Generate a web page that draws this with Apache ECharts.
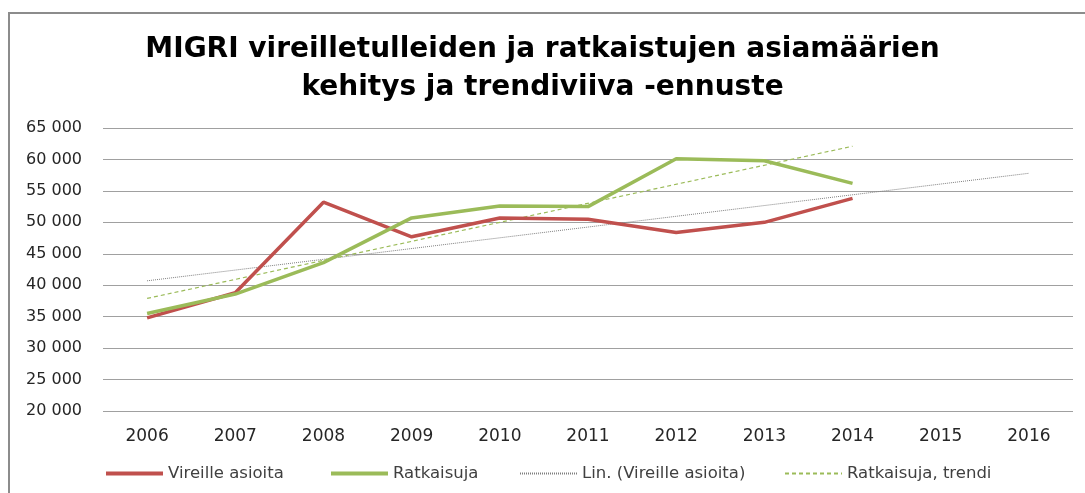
<!DOCTYPE html>
<html lang="fi">
<head>
  <meta charset="UTF-8">
  <title>MIGRI asiamäärät</title>
  <style>
    html, body {
      margin: 0;
      padding: 0;
      background: #fff;
      overflow: hidden;
    }
    .frame {
      position: absolute;
      left: 8px;
      top: 12px;
      width: 1200px;
      height: 600px;
      border-top: 2px solid #8c8c8c;
      border-left: 2px solid #8c8c8c;
    }
    #chart {
      position: absolute;
      left: 0;
      top: 0;
      width: 1085px;
      height: 493px;
    }
  </style>
  <script src="https://cdn.jsdelivr.net/npm/echarts@6/dist/echarts.min.js"></script>
</head>
<body>
  <div class="frame"></div>
  <div id="chart"></div>
  <script>
    var years = ['2006', '2007', '2008', '2009', '2010', '2011', '2012', '2013', '2014', '2015', '2016'];
    var vireille = [34800, 38800, 53200, 47700, 50700, 50500, 48400, 50000, 53800, null, null];
    var ratkaisuja = [35500, 38600, 43600, 50700, 52600, 52500, 60100, 59800, 56200, null, null];
    // trendiviivojen päätepisteet luettu kuvasta
    var vireilleTrend = [[0, 40700], [10, 57800]];
    var ratkaisujaTrend = [[0, 37900], [8, 62100]];
    var yTicks = { min: 20000, max: 65000, step: 5000 };

    var font = '"DejaVu Sans", sans-serif';
    var chart = echarts.init(document.getElementById('chart'));

    // viivamainen selite; yhtenäisille sarjoille paksu suorakulmio
    function legendAt(left, name, solid) {
      var lg = {
        left: left,
        top: 460,
        itemWidth: 57,
        itemHeight: 14,
        itemGap: 0,
        data: [name],
        textStyle: { color: '#404040', fontSize: 16.5, fontFamily: font }
      };
      if (solid) {
        lg.icon = 'rect';
        lg.itemHeight = 4;
      } else {
        lg.itemStyle = { opacity: 0 };
      }
      return lg;
    }

    chart.setOption({
      animation: false,
      title: {
        text: 'MIGRI vireilletulleiden ja ratkaistujen asiamäärien\nkehitys ja trendiviiva -ennuste',
        left: 'center',
        top: 26,
        textStyle: {
          color: '#000',
          fontSize: 28,
          fontWeight: 'bold',
          fontFamily: font,
          lineHeight: 38
        }
      },
      legend: [
        legendAt(101, 'Vireille asioita', true),
        legendAt(326, 'Ratkaisuja', true),
        legendAt(514, 'Lin. (Vireille asioita)', false),
        legendAt(779, 'Ratkaisuja, trendi', false)
      ],
      grid: { left: 103, right: 12, top: 128, bottom: 82 },
      xAxis: {
        type: 'category',
        data: years,
        boundaryGap: true,
        axisLine: { show: false },
        axisTick: { show: false },
        axisLabel: { color: '#262626', fontSize: 17, fontFamily: font, margin: 17 }
      },
      yAxis: {
        type: 'value',
        min: yTicks.min,
        max: yTicks.max,
        interval: yTicks.step,
        axisLine: { show: false },
        axisTick: { show: false },
        splitLine: { lineStyle: { color: '#a0a0a0', width: 1.2 } },
        axisLabel: {
          color: '#262626',
          fontSize: 16,
          fontFamily: font,
          margin: 21,
          formatter: function (v) {
            return String(v).replace(/\B(?=(\d{3})+(?!\d))/g, ' ');
          }
        }
      },
      series: [
        {
          name: 'Vireille asioita',
          type: 'line',
          data: vireille,
          symbol: 'none',
          lineStyle: { color: '#c0504d', width: 3.5 },
          itemStyle: { color: '#c0504d' },
          z: 4
        },
        {
          name: 'Ratkaisuja',
          type: 'line',
          data: ratkaisuja,
          symbol: 'none',
          lineStyle: { color: '#9bbb59', width: 3.5 },
          itemStyle: { color: '#9bbb59' },
          z: 5
        },
        {
          name: 'Lin. (Vireille asioita)',
          type: 'line',
          data: vireilleTrend,
          symbol: 'none',
          lineStyle: { color: '#7f7f7f', width: 1, type: [1, 1] },
          itemStyle: { color: '#7f7f7f' },
          z: 2
        },
        {
          name: 'Ratkaisuja, trendi',
          type: 'line',
          data: ratkaisujaTrend,
          symbol: 'none',
          lineStyle: { color: '#9bbb59', width: 1.2, type: [4, 3] },
          itemStyle: { color: '#9bbb59' },
          z: 3
        }
      ]
    });

    window.addEventListener('resize', function () {
      chart.resize();
    });
  </script>
</body>
</html>
